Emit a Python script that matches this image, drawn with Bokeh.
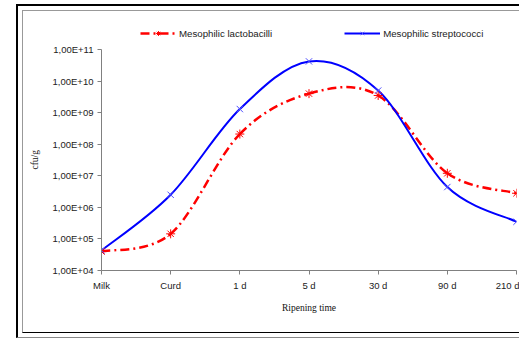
import numpy as np
from bokeh.plotting import figure
from bokeh.models import (Range1d, FixedTicker, CustomJSTickFormatter, Legend, LegendItem,
                          ColumnDataSource, InlineStyleSheet)
from bokeh.embed import file_html
from bokeh.resources import INLINE

# ---- data ----
stages = ["Milk", "Curd", "1 d", "5 d", "30 d", "90 d", "210 d"]
lactobacilli = [4.0e4, 1.45e5, 2.1e8, 4.0e9, 3.5e9, 1.2e7, 2.8e6]
streptococci = [4.3e4, 2.5e6, 1.3e9, 4.2e10, 5.0e9, 4.4e6, 3.5e5]
y_ticks = [1e4, 1e5, 1e6, 1e7, 1e8, 1e9, 1e10, 1e11]

xs = list(range(len(stages)))

# frame spans y=20..270 px; axis itself (1E+04..1E+11) spans y=49..270 px
y_top = 10 ** (11 + (49 - 20) / 221 * 7)

p = figure(width=519, height=338, output_backend="svg", toolbar_location=None,
           y_axis_type="log", x_range=Range1d(0, 6), y_range=Range1d(1e4, y_top),
           min_border_left=101, min_border_right=3, min_border_top=20, min_border_bottom=68)
p.outline_line_color = None
p.xgrid.visible = False
p.ygrid.visible = False
p.background_fill_color = "white"
p.border_fill_color = "white"


def smooth_source(x, y):
    """Excel-like smoothed line: cubic Bezier segments in log space."""
    L = np.log10(np.array(y, dtype=float))
    X = np.array(x, dtype=float)
    n = len(X)
    tx = np.zeros(n)
    ty = np.zeros(n)
    for i in range(n):
        a = max(i - 1, 0)
        b = min(i + 1, n - 1)
        tx[i] = (X[b] - X[a]) / 2
        ty[i] = (L[b] - L[a]) / 2
    d = dict(x0=[], y0=[], x1=[], y1=[], cx0=[], cy0=[], cx1=[], cy1=[])
    for i in range(n - 1):
        d["x0"].append(X[i]); d["y0"].append(10 ** L[i])
        d["x1"].append(X[i + 1]); d["y1"].append(10 ** L[i + 1])
        d["cx0"].append(X[i] + tx[i] / 3); d["cy0"].append(10 ** (L[i] + ty[i] / 3))
        d["cx1"].append(X[i + 1] - tx[i + 1] / 3); d["cy1"].append(10 ** (L[i + 1] - ty[i + 1] / 3))
    return ColumnDataSource(d)


red = "#FF0000"
blue = "#0000FF"

r_line = p.bezier(x0="x0", y0="y0", x1="x1", y1="y1", cx0="cx0", cy0="cy0", cx1="cx1", cy1="cy1",
                  source=smooth_source(xs, lactobacilli), line_color=red, line_width=2.5,
                  line_dash="9 4 2 4")
b_line = p.bezier(x0="x0", y0="y0", x1="x1", y1="y1", cx0="cx0", cy0="cy0", cx1="cx1", cy1="cy1",
                  source=smooth_source(xs, streptococci), line_color=blue, line_width=2)
r_mk = p.scatter(xs, lactobacilli, marker="asterisk", size=9, line_color=red, line_width=1)
b_mk = p.scatter(xs, streptococci, marker="x", size=9, line_color="#5050FF", line_width=1)

# axes
for ax in (p.xaxis[0], p.yaxis[0]):
    ax.axis_line_color = "#808080"
    ax.major_tick_line_color = "#808080"
    ax.major_tick_in = 0
    ax.major_tick_out = 4
    ax.minor_tick_line_color = None
    ax.major_label_text_font = "Liberation Sans"
    ax.major_label_text_font_size = "9.5px"
    ax.major_label_text_color = "#222222"
    ax.axis_label_text_font = "Liberation Serif"
    ax.axis_label_text_font_size = "9.5px"
    ax.axis_label_text_font_style = "normal"
    ax.axis_label_text_color = "#111111"

p.xaxis.ticker = FixedTicker(ticks=xs)
p.xaxis.major_label_overrides = {i: s for i, s in enumerate(stages)}
p.xaxis.major_label_standoff = 5
p.xaxis.axis_label = "Ripening time"
p.xaxis.axis_label_standoff = 9

p.yaxis.ticker = FixedTicker(ticks=y_ticks)
p.yaxis.bounds = (1e4, 1e11)
p.yaxis.formatter = CustomJSTickFormatter(
    code="return '1,00E+' + String(Math.round(Math.log10(tick))).padStart(2, '0');")
p.yaxis.major_label_standoff = 4
# trailing no-break spaces centre the visible label on the bounded axis, not the taller frame
p.yaxis.axis_label = "cfu/g" + "\u00a0" * 12
p.yaxis.axis_label_standoff = 10

legend = Legend(items=[LegendItem(label="Mesophilic lactobacilli", renderers=[r_line, r_mk]),
                       LegendItem(label="Mesophilic streptococci", renderers=[b_line, b_mk])],
                orientation="horizontal", location=(39, 231), glyph_width=36, glyph_height=12,
                label_standoff=3, spacing=72, padding=0, margin=0,
                border_line_alpha=0, background_fill_alpha=0,
                label_text_font="Liberation Sans", label_text_font_size="9.7px",
                label_text_color="#222222")
p.add_layout(legend, "center")

# page frames (double border around the chart area)
p.stylesheets = [InlineStyleSheet(css="""
:host { position: relative; }
:host::before {
  content: ""; position: absolute; left: 16px; top: 4px; width: 503px; height: 334px;
  box-sizing: border-box; border-left: 2px solid #000; border-top: 2px solid #000;
  border-bottom: 1px solid #888; pointer-events: none; z-index: 5;
}
:host::after {
  content: ""; position: absolute; left: 22px; top: 10px; width: 497px; height: 323px;
  box-sizing: border-box; border-left: 1.5px solid #999; border-top: 1.5px solid #999;
  border-bottom: 1.5px solid #000; pointer-events: none; z-index: 5;
}
""")]

open("out.html", "w").write(file_html(p, INLINE))
